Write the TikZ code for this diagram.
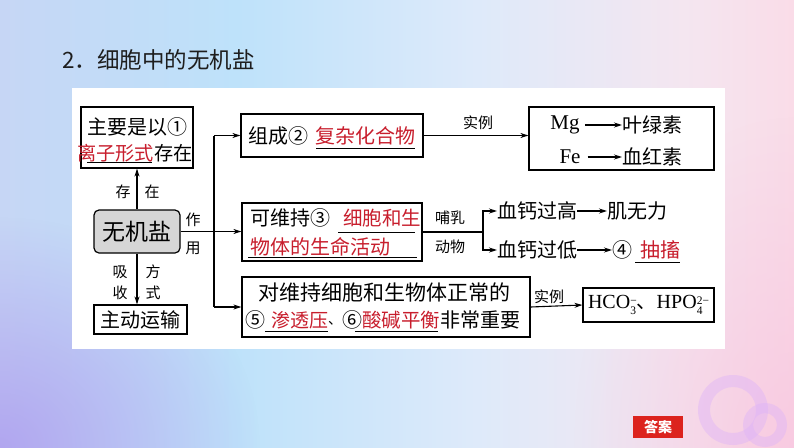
\documentclass[tikz,border=0pt]{standalone}
\usepackage{fontspec}
\setmainfont{Noto Sans CJK SC}
\newfontfamily\lat{Liberation Serif}
\usetikzlibrary{arrows.meta,fadings}
\tikzfading[name=myfade, inner color=transparent!0, outer color=transparent!100]
\definecolor{myred}{RGB}{200,30,45}
\definecolor{ansred}{RGB}{220,35,30}
\definecolor{saltgray}{RGB}{214,214,214}
\definecolor{ringc}{RGB}{222,180,248}
\definecolor{purp}{RGB}{170,150,238}
\definecolor{pinkc}{RGB}{248,195,222}
\definecolor{c1}{RGB}{198,214,245}
\definecolor{c2}{RGB}{190,226,250}
\definecolor{c3}{RGB}{222,234,250}
\definecolor{c4}{RGB}{244,230,240}
\definecolor{c5}{RGB}{250,220,232}
\pgfdeclarehorizontalshading{bgh}{100bp}{color(0bp)=(c1); color(25bp)=(c1); color(40bp)=(c2); color(55bp)=(c3); color(68bp)=(c4); color(75bp)=(c5); color(100bp)=(c5)}
\newcommand\ionscr[2]{\raisebox{-6.5pt}{\fontsize{11.5}{13.5}\selectfont\shortstack[l]{#2\\#1}}}
\tikzset{
  txt/.style={inner sep=0pt, font=\fontsize{20}{24}\selectfont},
  rtxt/.style={txt, text=myred},
  lab/.style={inner sep=0pt, font=\fontsize{15}{18}\selectfont},
  boxx/.style={draw, line width=1.2pt, inner sep=0pt},
  arr/.style={-{Stealth[length=8pt,width=5pt]}, line width=1.1pt},
  ln/.style={line width=1.1pt},
  ul/.style={line width=1pt},
}
\begin{document}
\begin{tikzpicture}[x=1pt,y=-1pt]
\useasboundingbox (0,0) rectangle (794,447);
% background
\shade[shading=bgh] (0,0) rectangle (794,447);
\fill[purp, opacity=0.75, path fading=myfade, fit fading=true] (0,447) ellipse [x radius=260, y radius=230];
\fill[pinkc, opacity=0.7, path fading=myfade, fit fading=true] (794,447) ellipse [x radius=220, y radius=330];
\fill[ringc, opacity=0.45, even odd rule] (733,410) circle (35) circle (23);
\fill[ringc, opacity=0.45, even odd rule] (765,425) circle (22) circle (12);
% title
\node[anchor=west, inner sep=0pt, text={rgb,255:red,30;green,30;blue,30}, font=\fontsize{22.5}{26}\selectfont] (title) at (62,60) {2．细胞中的无机盐};
% panel
\fill[white] (72,88) rectangle (725,349);
% boxes
\node[boxx, minimum width=112, minimum height=61] (boxA) at (137,137.5) {};
\node[txt] (a1) at (137,127) {主要是以①};
\node[txt, anchor=west, font=\fontsize{19.2}{24}\selectfont] (a2) at (77,153) {\textcolor{myred}{离子形式}存在};
\draw[ul] (87,162) -- (152,162);

\node[boxx, fill=saltgray, rounded corners=5pt, minimum width=86, minimum height=43, font=\fontsize{23}{26}\selectfont] (salt) at (137,231.5) {无机盐};

\node[boxx, minimum width=93, minimum height=29] (boxT) at (140.5,319.5) {};
\node[txt] (t1) at (140.5,319.5) {主动运输};

\draw[arr] (salt.north) -- (salt.north |- boxA.south);
\draw[arr] (salt.south) -- (salt.south |- boxT.north);
\node[lab] (l1) at (123,192) {存};
\node[lab] (l2) at (152,192) {在};
\node[lab] (l3) at (120,272) {吸};
\node[lab] (l4) at (120,293) {收};
\node[lab] (l5) at (153,272) {方};
\node[lab] (l6) at (153,293) {式};
\node[lab] (l7) at (193,220) {作};
\node[lab] (l8) at (193,248) {用};

% right boxes
\node[boxx, minimum width=182, minimum height=43] (boxB) at (332,135.5) {};
\node[txt, anchor=west] (b1) at (248,136) {组成②};
\node[rtxt, anchor=west] (b2) at (315,136) {复杂化合物};
\draw[ul] (316,148) -- (415,148);

\node[boxx, minimum width=180, minimum height=58] (boxC) at (332,232) {};
\node[txt, anchor=west] (c1n) at (250,218) {可维持③};
\node[rtxt, anchor=west, font=\fontsize{19.5}{24}\selectfont] (c2n) at (343,218) {细胞和生};
\draw[ul] (338,232) -- (415,232);
\node[rtxt, anchor=west] (c3n) at (250,247) {物体的生命活动};
\draw[ul] (248,257) -- (417,257);

\node[boxx, minimum width=288, minimum height=60] (boxD) at (386,307) {};
\node[txt, font=\fontsize{21}{24}\selectfont] (d1) at (384,293) {对维持细胞和生物体正常的};
\node[txt, anchor=west] (d2) at (245,320) {⑤};
\node[rtxt, anchor=west, font=\fontsize{19}{24}\selectfont] (d3) at (271,320) {渗透压};
\draw[ul] (265,331) -- (328,331);
\node[txt, anchor=west, font=\fontsize{14}{24}\selectfont] (d4) at (328,323) {、};
\node[txt, anchor=west] (d5) at (342,320) {⑥};
\node[rtxt, anchor=west, font=\fontsize{19.5}{24}\selectfont] (d6) at (362,320) {酸碱平衡};
\draw[ul] (355,331) -- (438,331);
\node[txt, anchor=west] (d7) at (440,320) {非常重要};

% trunk
\coordinate (tt) at (214,135.5);
\coordinate (tb) at (214,307);
\draw[ln] (salt.east) -- (salt.east -| tt);
\draw[ln] (tt) -- (tb);
\draw[arr] (tt) -- (boxB.west);
\draw[arr] (salt.east -| tt) -- (salt.east -| boxC.west);
\draw[arr] (tb) -- (boxD.west);

% examples box
\node[boxx, minimum width=185, minimum height=63] (boxMg) at (621.5,138.5) {};
\node[inner sep=0pt, font=\lat\fontsize{21}{24}\selectfont] (mg) at (565,125) {Mg};
\node[txt, anchor=west] (chl) at (622,125) {叶绿素};
\draw[arr, shorten <=5pt] (mg.east) -- (chl.west);
\node[inner sep=0pt, font=\lat\fontsize{21}{24}\selectfont] (fe) at (570,157) {Fe};
\node[txt, anchor=west] (hb) at (622,157) {血红素};
\draw[arr, shorten <=7pt] (fe.east) -- (fe.east -| hb.west);
\draw[arr] (boxB.east) -- (boxB.east -| boxMg.west);
\node[lab] (e1) at (478,123) {实例};

% calcium
\coordinate (br) at (483,232);
\node[txt, anchor=west] (high) at (497,211) {血钙过高};
\node[txt, anchor=west] (weak) at (607,211) {肌无力};
\node[txt, anchor=west] (low) at (497,250) {血钙过低};
\node[txt, anchor=west] (n4) at (612,250) {④};
\node[rtxt, anchor=west] (cramp) at (640,250) {抽搐};
\draw[ul] (635,262) -- (680,262);
\draw[ln] (boxC.east) -- (br);
\draw[arr] (br) |- (high.west);
\draw[arr] (br) |- (low.west);
\draw[arr] (high.east) -- (weak.west);
\draw[arr] (low.east) -- (n4.west);
\node[lab] (m1) at (450,218) {哺乳};
\node[lab] (m2) at (450,247) {动物};

% buffer box
\node[boxx, minimum width=131, minimum height=34, font=\fontsize{20}{24}\selectfont] (boxE) at (648.5,305) {{\lat HCO\ionscr{3}{−}}、{\lat HPO\ionscr{4}{2−}}};
\draw[arr] (boxD.east) -- (boxE.west);
\node[lab] (e2) at (549,297) {实例};

% answer button
\node[fill=ansred, minimum width=50, minimum height=22, inner sep=0pt, text=white, font=\fontsize{14}{14}\selectfont\bfseries] (ans) at (658,427) {答案};
\end{tikzpicture}
\end{document}
